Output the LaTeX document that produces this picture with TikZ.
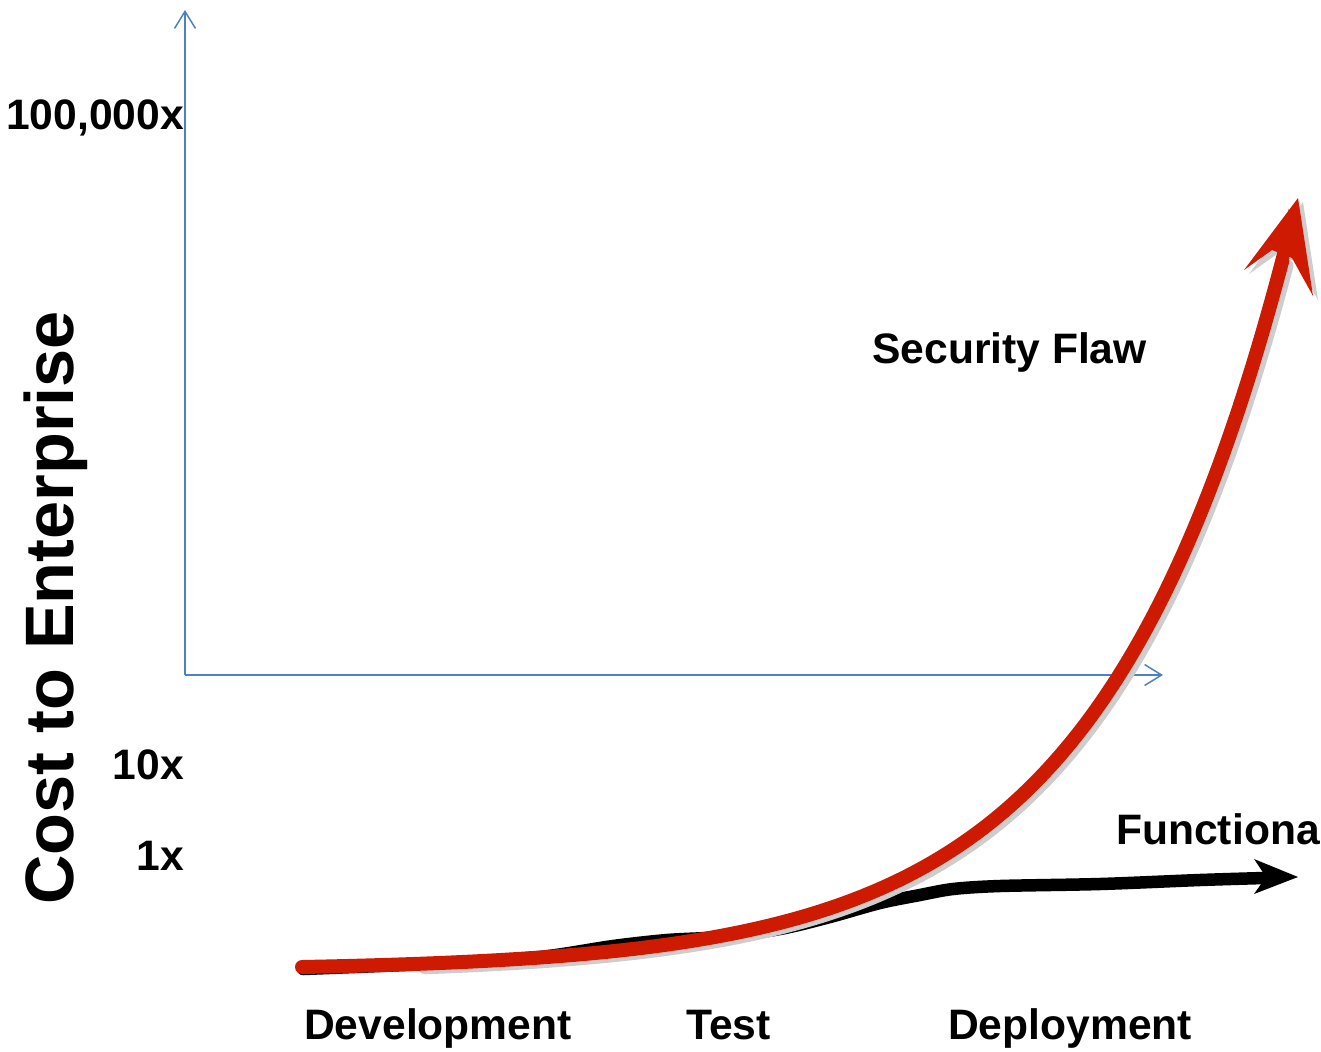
\documentclass[tikz,border=0pt]{standalone}
\usepackage{fontspec}
\setmainfont{Liberation Sans}
\usetikzlibrary{arrows.meta}
\definecolor{axisblue}{RGB}{79,129,189}
\definecolor{flawred}{RGB}{205,26,0}
\definecolor{shadowgrey}{RGB}{205,205,205}
\begin{document}
\begin{tikzpicture}[x=1pt,y=-1pt,
  lbl/.style={inner sep=0pt, font=\bfseries\fontsize{42.6}{50}\selectfont},
  ylbl/.style={inner sep=0pt, font=\bfseries\fontsize{68.5}{80}\selectfont},
  axisline/.style={draw=axisblue, line width=1.5pt, -{Straight Barb[length=17pt,width=21pt,line width=1.5pt]}},
  redcurve/.style={draw=flawred, line width=14pt, line cap=round},
  shadowcurve/.style={draw=shadowgrey, line width=13pt, line cap=round},
  blackcurve/.style={draw=black, line width=12.5pt, line cap=round}]
\useasboundingbox (0,0) rectangle (1321,1051);
% axes
\coordinate (origin) at (185,675);
\coordinate (ytop) at (185,10);
\coordinate (xend) at (1163,675);
\draw[axisline] (origin) -- (ytop);
\draw[axisline] (origin) -- (xend);
% labels
\node[lbl, anchor=base east] (l100k) at (184,130) {100,000x};
\node[lbl, anchor=base east] (l10) at (184,779) {10x};
\node[lbl, anchor=base east] (l1) at (184,870) {1x};
\node[ylbl, anchor=base west, rotate=90] (ylab) at (73,905) {Cost to Enterprise};
\node[lbl, anchor=base west] (dev) at (304,1039) {Development};
\node[lbl, anchor=base west] (test) at (686,1039) {Test};
\node[lbl, anchor=base west] (dep) at (948,1039) {Deployment};
\node[lbl, anchor=base west] (sec) at (872,363) {Security Flaw};
\node[lbl, anchor=base west] (fun) at (1116,844) {Functiona};
% functional (black) curve
\coordinate (bstart) at (303,969);
\coordinate (bend) at (1264,878);
\draw[blackcurve] plot[smooth, tension=0.5] coordinates {(bstart) (450,963) (540,957) (613,946) (667,940) (720,937) (780,929) (830,917) (880,903) (920,895) (953,889) (1000,886) (1100,884) (1200,880) (bend)};
\fill[black] (1298,877) -- (1254,859) -- (1266,877) -- (1254,894) -- cycle;
% security flaw (red) curve with shadow
\coordinate (rstart) at (302,967);
\coordinate (rend) at (1282,262);
\begin{scope}[shift={(5,4)}]
\draw[shadowcurve] plot[domain=420:1282, samples=160] (\x, {967 - 3.67*(exp(0.00537*(\x-302))-1)});
\fill[shadowgrey] (1298,198) -- (1244,270) -- (1272,250) -- (1292,258) -- (1313,296) -- cycle;
\end{scope}
\draw[redcurve] (rstart) -- plot[domain=302:1282, samples=200] (\x, {967 - 3.67*(exp(0.00537*(\x-302))-1)}) -- (rend);
\fill[flawred] (1298,198) -- (1244,270) -- (1272,250) -- (1292,258) -- (1313,296) -- cycle;
\end{tikzpicture}
\end{document}
